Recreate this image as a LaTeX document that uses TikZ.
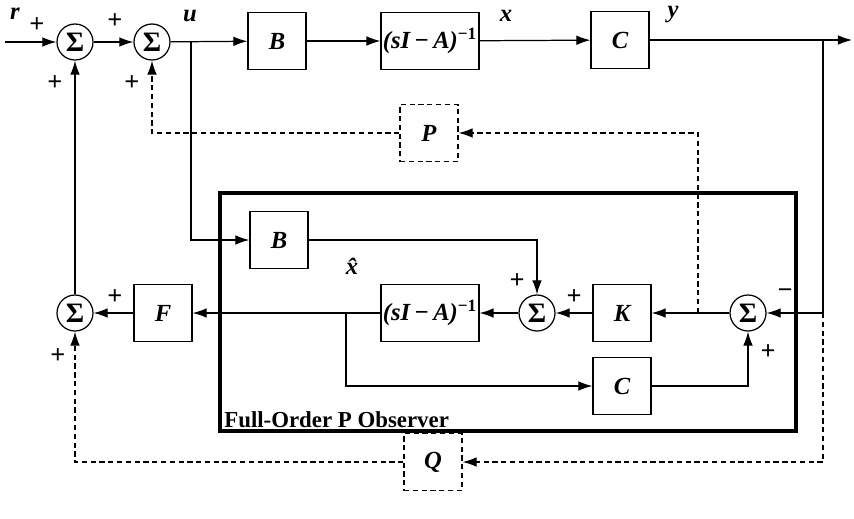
\documentclass[tikz,border=0pt]{standalone}
\usepackage{fontspec}
\setmainfont{Liberation Serif}
\usepackage{tikz}
\usetikzlibrary{arrows.meta,positioning}

\begin{document}
\begin{tikzpicture}[
    x=0.02cm, y=-0.02cm,
    >={Latex[length=8pt,width=5.5pt]},
    line width=0.7pt,
    font=\fontsize{14}{16}\selectfont\bfseries\itshape,
    blk/.style={draw, minimum width=1.16cm, minimum height=1.14cm, inner sep=1pt},
    wideblk/.style={blk, minimum width=1.9cm},
    gainblk/.style={blk, dash pattern=on 3pt off 2pt},
    sumnode/.style={draw, circle, minimum size=0.72cm, inner sep=0pt,
        font=\fontsize{16}{18}\selectfont\bfseries},
    feed/.style={->, dash pattern=on 3pt off 2pt},
    sgn/.style={font=\fontsize{15}{16}\selectfont\bfseries, inner sep=0pt}
]
\useasboundingbox (0,0) rectangle (854,518);

% Plant
\node[sumnode] (sumR) at (75,42) {Σ};
\node[sumnode] (sumU) at (152,42) {Σ};
\node[blk] (plantB) at (277,41) {B};
\node[wideblk] (plantG) at (430,41) {(sI\,−\,A)\textsuperscript{\upshape −1}};
\node[blk] (plantC) at (620,40) {C};

% Observer
\node[blk] (obsB) at (279,240) {B};
\node[sumnode] (sumK) at (537,313) {Σ};
\node[wideblk] (obsG) at (430,313) {(sI\,−\,A)\textsuperscript{\upshape −1}};
\node[blk] (gainK) at (622,313) {K};
\node[sumnode] (sumY) at (748,313) {Σ};
\node[blk] (obsC) at (622,386) {C};
\draw[line width=2pt] (220,193) rectangle (796,431);
\node[font=\fontsize{13}{14}\selectfont\bfseries, anchor=south west,
      inner sep=1pt] (obsLabel) at (222,430) {Full-Order P Observer};

% Feedback
\node[blk] (gainF) at (163,313) {F};
\node[sumnode] (sumF) at (75,313) {Σ};
\node[gainblk] (gainP) at (429,133) {P};
\node[gainblk] (gainQ) at (433,462) {Q};

% Points
\coordinate (rIn)   at (5,42);
\coordinate (uTap)  at (191,42);
\coordinate (yOut)  at (852,40);
\coordinate (yTap)  at (823,40);
\coordinate (yObs)  at (823,313);
\coordinate (pTap)  at (698,313);
\coordinate (xhTap) at (346,313);

% Forward path
\draw[->] (rIn) -- (sumR);
\draw[->] (sumR) -- (sumU);
\draw[->] (sumU) -- (plantB);
\draw[->] (plantB) -- (plantG);
\draw[->] (plantG) -- (plantC);
\draw[->] (plantC) -- (yOut);
\draw[->] (yTap) |- (sumY);

% Observer connections
\draw[->] (uTap) |- (obsB);
\draw[->] (obsB) -| (sumK);
\draw[->] (sumK) -- (obsG);
\draw[->] (gainK) -- (sumK);
\draw[->] (sumY) -- (gainK);
\draw[->] (obsG) -- (gainF);
\draw[->] (xhTap) |- (obsC);
\draw[->] (obsC) -| (sumY);
\draw[->] (gainF) -- (sumF);
\draw[->] (sumF) -- (sumR);

% Dashed feedthrough paths
\draw[feed] (pTap) |- (gainP);
\draw[feed] (gainP) -| (sumU);
\draw[feed] (yObs) |- (gainQ);
\draw[feed] (gainQ) -| (sumF);

% Signal labels
\node at (15,14) {r};
\node at (190,16) {u};
\node at (506,16) {x};
\node at (673,15) {y};
\node at (352,266) {\^{x}};

% Signs
\node[sgn] at (37,25) {+};
\node[sgn] at (55,83) {+};
\node[sgn] at (115,21) {+};
\node[sgn] at (132,83) {+};
\node[sgn] at (115,297) {+};
\node[sgn] at (58,356) {+};
\node[sgn] at (517,281) {+};
\node[sgn] at (574,297) {+};
\node[sgn] at (785,294) {−};
\node[sgn] at (768,352) {+};

\end{tikzpicture}
\end{document}
